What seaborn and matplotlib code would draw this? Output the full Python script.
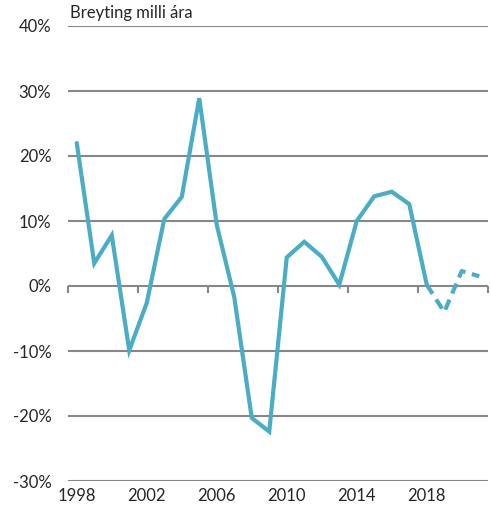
import numpy as np
import pandas as pd
import matplotlib
matplotlib.use('Agg')
import matplotlib.pyplot as plt
import seaborn as sns

# values (% change between years)
years = list(range(1998, 2022))
change = [22.0, 3.5, 7.8, -9.9, -2.6, 10.3, 13.7, 28.9, 9.4, -1.7, -20.3, -22.4,
          4.4, 6.8, 4.5, 0.2, 10.0, 13.8, 14.5, 12.6, 0.2, -4.0, 2.3, 1.5]
last_actual = 2018

line_color = '#4BACC6'
grid_color = '#878787'

df = pd.DataFrame({'year': years, 'change': change})
df_actual = df[df['year'] <= last_actual]
df_fcst = df[df['year'] >= last_actual]

sns.set_style('white')
plt.rcParams['font.family'] = ['Lato', 'DejaVu Sans']

fig = plt.figure(figsize=(4.91, 5.13), dpi=100)
ax = fig.add_axes([68 / 491, 1 - 481 / 513, 420 / 491, 455 / 513])

sns.lineplot(data=df_actual, x='year', y='change', ax=ax, color=line_color,
             linewidth=3.0, solid_joinstyle='miter')
sns.lineplot(data=df_fcst, x='year', y='change', ax=ax, color=line_color,
             linewidth=3.0, linestyle=(0, (2.6, 1.6)))

ax.set_xlim(1997.5, 2021.5)
ax.set_ylim(-30, 40)
yt = np.arange(-30, 41, 10)
ax.set_yticks(yt)
ax.set_yticklabels([f'{v}%' for v in yt], fontsize=12)
ax.yaxis.grid(True, color=grid_color, linewidth=1.5)
ax.set_axisbelow(True)
for s in ax.spines.values():
    s.set_visible(False)
ax.tick_params(axis='y', length=0, pad=12)

# year labels at bottom
ax.set_xticks(years[::4])
ax.set_xticklabels([str(y) for y in years[::4]], fontsize=12)
ax.tick_params(axis='x', length=0, pad=5)
ax.set_xlabel('')
ax.set_ylabel('')

# tick marks on the zero line, between categories
zero_axis = ax.secondary_xaxis(30 / 70)
zero_axis.set_xticks(np.arange(1997.5, 2022, 4))
zero_axis.set_xticklabels([])
zero_axis.tick_params(axis='x', direction='out', length=5, width=1.5, color=grid_color)
zero_axis.spines['bottom'].set_visible(False)

ax.text(0.005, 1.01, 'Breyting milli ára', transform=ax.transAxes,
        fontsize=12, ha='left', va='bottom')

fig.savefig('out.png', dpi=100)
